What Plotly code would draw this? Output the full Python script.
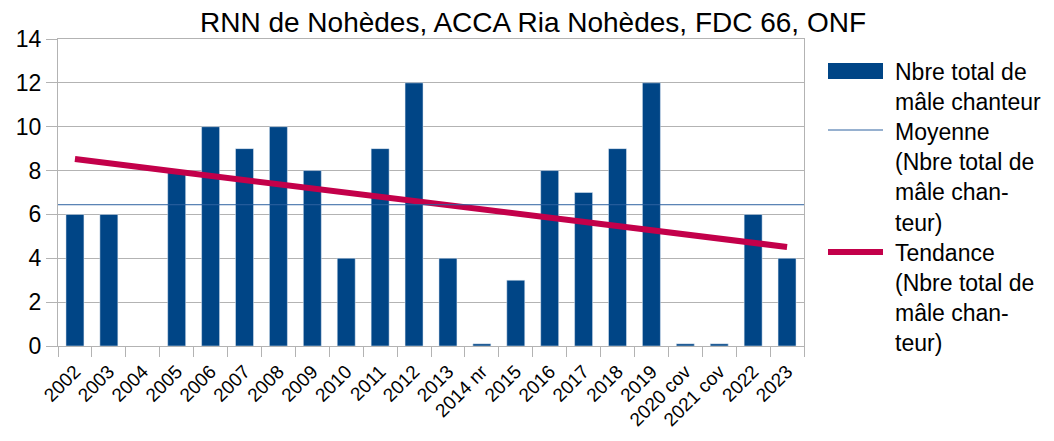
import numpy as np
import plotly.graph_objects as go

categories = ["2002", "2003", "2004", "2005", "2006", "2007", "2008", "2009", "2010",
              "2011", "2012", "2013", "2014 nr", "2015", "2016", "2017", "2018", "2019",
              "2020 cov", "2021 cov", "2022", "2023"]
males = [6, 6, None, 8, 10, 9, 10, 8, 4, 9, 12, 4, 0.1, 3, 8, 7, 9, 12, 0.1, 0.1, 6, 4]
y_ticks = [0, 2, 4, 6, 8, 10, 12, 14]

title = "RNN de Nohèdes, ACCA Ria Nohèdes, FDC 66, ONF"
name_bar = "Nbre total de mâle chanteur"
name_mean = "Moyenne (Nbre total de mâle chanteur)"
name_trend = "Tendance (Nbre total de mâle chanteur)"
legend_lines = [
    ["Nbre total de", "mâle chanteur"],
    ["Moyenne", "(Nbre total de", "mâle chan-", "teur)"],
    ["Tendance", "(Nbre total de", "mâle chan-", "teur)"],
]

BAR = "#004586"
MEAN = "#2e62a0"
TREND = "#c3004a"
GRID = "#b3b3b3"
FONT = "Liberation Sans"

# derived statistics
idx = np.array([i for i, v in enumerate(males) if v is not None], dtype=float)
vals = np.array([v for v in males if v is not None], dtype=float)
mean_val = vals.mean()
slope, intercept = np.polyfit(idx, vals, 1)
trend = [intercept + slope * i for i in range(len(categories))]

OFF = 8  # page body margin
W, H = 1054 - 2 * OFF, 441 - 2 * OFF
# plot area in page pixels
L, R, T, B = 58, 804, 39, 346


def px(x):
    return (x - L) / (R - L)


def py(y):
    return (B - y) / (B - T)


fig = go.Figure()
fig.add_trace(go.Bar(x=categories, y=males, marker_color=BAR, name=name_bar,
                     showlegend=False))
fig.add_trace(go.Scatter(x=categories, y=trend, mode="lines", name=name_trend,
                         line=dict(color=TREND, width=6), showlegend=False))

shapes = [
    dict(type="line", xref="x domain", yref="y", x0=0, x1=1, y0=mean_val, y1=mean_val,
         line=dict(color=MEAN, width=1)),
    # legend symbols
    dict(type="rect", xref="paper", yref="paper", x0=px(828), x1=px(883), y0=py(79), y1=py(63),
         fillcolor=BAR, line=dict(width=0)),
    dict(type="line", xref="paper", yref="paper", x0=px(828), x1=px(883), y0=py(130), y1=py(130),
         line=dict(color=MEAN, width=1)),
    dict(type="line", xref="paper", yref="paper", x0=px(828), x1=px(883), y0=py(252), y1=py(252),
         line=dict(color=TREND, width=6)),
]

annotations = []
k = 0
for group in legend_lines:
    for line in group:
        annotations.append(dict(text=line, xref="paper", yref="paper", x=px(893), y=py(72 + 30.1 * k),
                                xanchor="left", yanchor="middle", showarrow=False,
                                font=dict(family=FONT, size=23, color="#000")))
        k += 1

fig.update_layout(
    width=W, height=H,
    margin=dict(l=L - OFF, r=W - (R - OFF), t=T - OFF, b=H - (B - OFF), pad=0, autoexpand=False),
    paper_bgcolor="white", plot_bgcolor="white",
    font=dict(family=FONT, color="#000"),
    title=dict(text=title, x=(533 - OFF) / W, xanchor="center", y=1 - (22 - OFF) / H, yanchor="middle",
               xref="container", yref="container", font=dict(family=FONT, size=28, color="#000")),
    bargap=0.47,
    showlegend=False,
    shapes=shapes,
    annotations=annotations,
)
fig.update_xaxes(type="category", range=[-0.5, len(categories) - 0.5], tickangle=-45,
                 ticks="outside", ticklen=10, tickcolor=GRID, tickson="boundaries",
                 ticklabelstandoff=6,
                 showline=True, linecolor=GRID, linewidth=1, mirror=True, showgrid=False,
                 automargin=False,
                 tickfont=dict(family=FONT, size=19, color="#000"))
fig.update_yaxes(range=[0, 14], tickvals=y_ticks, ticks="outside", ticklen=11, tickcolor=GRID,
                 showline=True, linecolor=GRID, linewidth=1, mirror=True, automargin=False,
                 showgrid=True, gridcolor=GRID, gridwidth=1, zeroline=False,
                 tickfont=dict(family=FONT, size=23, color="#000"))

fig.write_html("out.html")
